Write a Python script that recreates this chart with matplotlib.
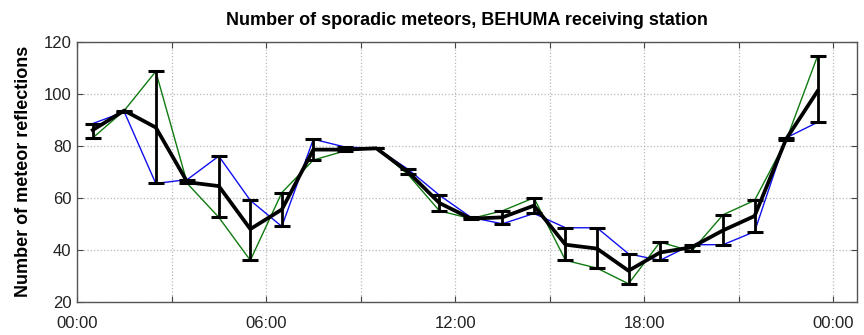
import matplotlib
matplotlib.use('Agg')
import matplotlib.pyplot as plt
import numpy as np

plt.rcParams['font.family'] = ['Liberation Sans', 'DejaVu Sans']

# hourly bins, hour of day (UT)
hours = [h + 0.5 for h in range(24)]

blue_counts = [88.5, 93, 65.5, 67, 76, 59, 49, 82.5, 79.5, 79, 71, 61,
               52.5, 50, 54, 48.5, 48.5, 38.5, 36, 42, 42, 47, 83, 89]
green_counts = [83, 93.5, 108.5, 65.5, 52.5, 36, 62, 74.5, 78, 79, 69, 55,
                52, 55, 60, 36, 33, 27, 43, 39.5, 53.5, 59, 82, 114.5]
# mean curve (thick black)
mean_counts = [86, 93.5, 87, 66, 64.5, 48, 55.5, 78.5, 78.5, 79, 70, 58,
               52, 52.5, 57, 42, 40.5, 32, 39, 41, 47.5, 53, 82.5, 101]

xtick_pos = [0, 6, 12, 18, 24]
xtick_labels = ['00:00', '06:00', '12:00', '18:00', '00:00']

lo = np.minimum(blue_counts, green_counts)
hi = np.maximum(blue_counts, green_counts)
mean = np.array(mean_counts)
yerr = [mean - lo, hi - mean]

fig = plt.figure(figsize=(8.64, 3.35), dpi=100)
ax = fig.add_axes([0.0891, 0.0985, 0.9028, 0.7776])

ax.plot(hours, blue_counts, color='#1010f0', lw=1.0, zorder=2)
ax.plot(hours, green_counts, color='#107a10', lw=1.0, zorder=2)
ax.errorbar(hours, mean, yerr=yerr, color='black', lw=2.7, elinewidth=2.0,
            capsize=6, capthick=2.2, zorder=3)

ax.set_xlim(0, 24.75)
ax.set_ylim(20, 120)
ax.set_xticks(xtick_pos)
ax.set_xticklabels(xtick_labels)
ax.set_xticks([3, 9, 15, 21], minor=True)
ax.set_yticks(range(20, 121, 20))

ax.grid(True, which='both', axis='x', linestyle=':', color='#b8b8b8', lw=0.9)
ax.grid(True, which='major', axis='y', linestyle=':', color='#b8b8b8', lw=0.9)
ax.tick_params(which='both', direction='in', top=True, right=True,
               length=4, width=0.8, color='#444444', labelsize=12,
               labelcolor='#222222')
ax.tick_params(axis='x', pad=10)
ax.tick_params(axis='y', pad=4)
for s in ax.spines.values():
    s.set_color('#555555')
    s.set_linewidth(1.0)

ax.set_title('Number of sporadic meteors, BEHUMA receiving station',
             fontsize=13, fontweight='bold', pad=12)
ax.set_ylabel('Number of meteor reflections', fontsize=13, fontweight='bold',
              labelpad=8)

fig.savefig('out.png', dpi=100)
